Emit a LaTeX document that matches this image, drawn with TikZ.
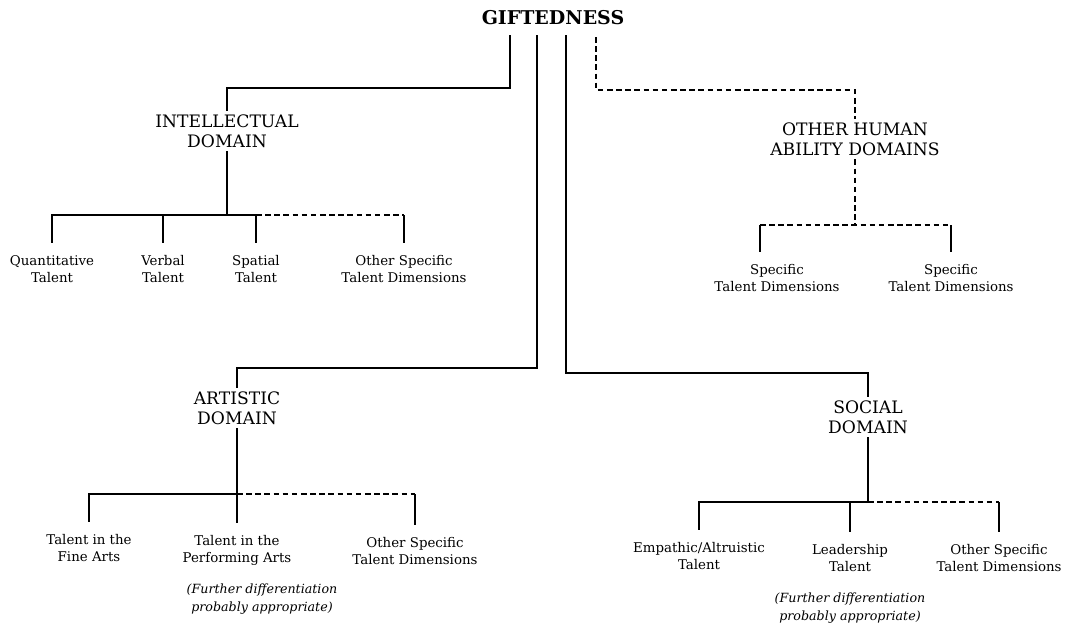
\documentclass[tikz,border=0pt]{standalone}
\usepackage{fontspec}
\setmainfont{DejaVu Serif}
\usepackage{tikz}
\usetikzlibrary{positioning}
\tikzset{dombox/.style = {align=center, inner sep=2pt,
                          font=\fontsize{12.2}{14.5}\selectfont}}
\tikzset{talent/.style = {align=center, anchor=north, inner ysep=2pt, outer ysep=7pt,
                          font=\fontsize{9.5}{12}\selectfont}}
\tikzset{remark/.style = {align=center, font=\itshape\fontsize{9}{13}\selectfont}}
\tikzset{openline/.style = {dash pattern=on 4pt off 2.5pt}}

\begin{document}
\begin{tikzpicture}[x=0.025cm, y=-0.025cm, line width=1.35pt]
    \useasboundingbox (0,0) rectangle (1071,626);
    \node [font=\bfseries\fontsize{13.5}{16}\selectfont] (gift) at (553,18) {GIFTEDNESS};
    \coordinate (g1) at (510,35);
    \coordinate (g2) at (537,35);
    \coordinate (g3) at (566,35);
    \coordinate (g4) at (596,37);

    % domains
    \node [dombox] (intel) at (227,131) {INTELLECTUAL\\DOMAIN};
    \node [dombox] (other) at (855,139) {OTHER HUMAN\\ABILITY DOMAINS};
    \node [dombox] (art) at (237,408) {ARTISTIC\\DOMAIN};
    \node [dombox] (soc) at (868,417) {SOCIAL\\DOMAIN};
    \draw (g1) -- ++(0,53) -| (intel.north);
    \draw (g2) -- ++(0,333) -| (art.north);
    \draw (g3) -- ++(0,338) -| (soc.north);
    \draw [openline] (g4) -- ++(0,53) -| (other.north);

    % intellectual
    \coordinate (ij) at (227,215);
    \node [talent] (quant) at (52,243) {Quantitative\\Talent};
    \node [talent] (verb) at (163,243) {Verbal\\Talent};
    \node [talent] (spat) at (256,243) {Spatial\\Talent};
    \node [talent] (oth1) at (404,243) {Other Specific\\Talent Dimensions};
    \draw (intel.south) -- (ij);
    \draw (ij) -| (quant.north);
    \draw (ij) -| (verb.north);
    \draw (ij) -| (spat.north);
    \draw [openline] (spat.north |- ij) -- (ij -| oth1.north);
    \draw (ij -| oth1.north) -- (oth1.north);

    % other human ability
    \coordinate (oj) at (855,225);
    \coordinate (s1) at (760,252);
    \node [talent] (spec1) at (777,252) {Specific\\Talent Dimensions};
    \node [talent] (spec2) at (951,252) {Specific\\Talent Dimensions};
    \draw [openline] (other.south) -- (oj);
    \draw [openline] (s1 |- oj) -- (oj -| spec2.north);
    \draw (s1 |- oj) -- (s1);
    \draw (oj -| spec2.north) -- (spec2.north);

    % artistic
    \coordinate (aj) at (237,494);
    \node [talent] (fine) at (89,522) {Talent in the\\Fine Arts};
    \node [talent] (perf) at (237,523) {Talent in the\\Performing Arts};
    \node [talent] (oth2) at (415,525) {Other Specific\\Talent Dimensions};
    \node [remark] (rem1) at (262,599) {(Further differentiation\\probably appropriate)};
    \draw (art.south) -- (perf.north);
    \draw (aj) -| (fine.north);
    \draw [openline] (aj) -- (aj -| oth2.north);
    \draw (aj -| oth2.north) -- (oth2.north);

    % social
    \coordinate (sj) at (868,502);
    \node [talent] (emp) at (699,530) {Empathic/Altruistic\\Talent};
    \node [talent] (lead) at (850,532) {Leadership\\Talent};
    \node [talent] (oth3) at (999,532) {Other Specific\\Talent Dimensions};
    \node [remark] (rem2) at (850,608) {(Further differentiation\\probably appropriate)};
    \draw (soc.south) -- (sj);
    \draw (sj) -| (emp.north);
    \draw (sj) -| (lead.north);
    \draw [openline] (sj) -- (sj -| oth3.north);
    \draw (sj -| oth3.north) -- (oth3.north);
\end{tikzpicture}
\end{document}
